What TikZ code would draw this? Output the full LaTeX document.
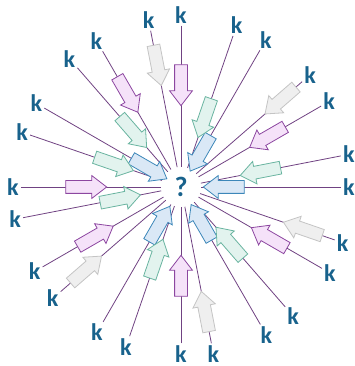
\documentclass[tikz,border=0pt]{standalone}
\usepackage{fontspec}
\setmainfont{Carlito}
\usetikzlibrary{shapes.arrows}
\definecolor{kblue}{RGB}{24,98,140}
\definecolor{spokecol}{RGB}{112,66,130}
\definecolor{pinkfill}{RGB}{245,226,249}
\definecolor{pinkdraw}{RGB}{140,70,160}
\definecolor{greenfill}{RGB}{226,243,238}
\definecolor{greendraw}{RGB}{105,180,160}
\definecolor{bluefill}{RGB}{218,232,246}
\definecolor{bluedraw}{RGB}{60,135,185}
\definecolor{grayfill}{RGB}{239,239,239}
\definecolor{graydraw}{RGB}{196,196,196}
\begin{document}
\begin{tikzpicture}[x=1pt,y=1pt,
  klabel/.style={font=\fontsize{24}{24}\selectfont\bfseries, text=kblue, inner sep=2pt},
  spoke/.style={draw=spokecol, line width=0.8pt},
  blockarrow/.style={single arrow, minimum height=41pt, minimum width=22pt,
    single arrow head extend=5pt, single arrow tip angle=75,
    inner xsep=0pt, inner ysep=6pt, line width=0.8pt},
  pinkarrow/.style={blockarrow, fill=pinkfill, draw=pinkdraw},
  greenarrow/.style={blockarrow, fill=greenfill, draw=greendraw},
  bluearrow/.style={blockarrow, fill=bluefill, draw=bluedraw},
  grayarrow/.style={blockarrow, fill=grayfill, draw=graydraw}]
\useasboundingbox (0,0) rectangle (354,366);
\coordinate (c) at (181,179);
\node[circle, minimum size=40pt, inner sep=0pt,
  font=\fontsize{28}{28}\selectfont\bfseries, text=kblue] (q) at (c) {?};
% spokes: index / angle / label radius
\foreach \i/\a/\lr in {
  1/90/172, 2/101/170, 3/120/169, 4/131/170, 5/150/167, 6/161/168,
  7/180/168, 8/191/169, 9/210/169, 10/221/170, 11/240/168, 12/251/169,
  13/270/167, 14/281/170, 15/300/171, 16/311/171, 17/330/172, 18/341/171,
  19/0/168, 20/11/171, 21/30/171, 22/41/171, 23/60/170, 24/71/171}{
  \node[klabel] (k\i) at ([shift={(\a:\lr)}]c) {k};
  \draw[spoke] (k\i) -- (q);
}
% block arrows on the spokes: index / angle / colour / distance from centre
\foreach \i/\a/\col/\ar in {
  1/90/pink/106, 2/101/gray/128, 3/120/pink/111,
  4/131/green/77, 5/150/blue/41, 6/161/green/75,
  7/180/pink/99, 8/191/green/66, 9/210/pink/103,
  10/221/gray/130, 11/240/blue/47, 12/251/green/80,
  13/270/pink/93, 14/281/gray/131, 15/300/blue/45,
  16/311/green/78, 17/330/pink/106, 18/341/gray/133,
  19/0/blue/47, 20/11/green/85, 21/30/pink/104,
  22/41/gray/136, 23/60/blue/43, 24/71/green/77}{
  \pgfmathsetmacro\dir{\a+180}
  \node[\col arrow, rotate=\dir] (a\i) at ([shift={(\a:\ar)}]c) {};
}
\end{tikzpicture}
\end{document}
